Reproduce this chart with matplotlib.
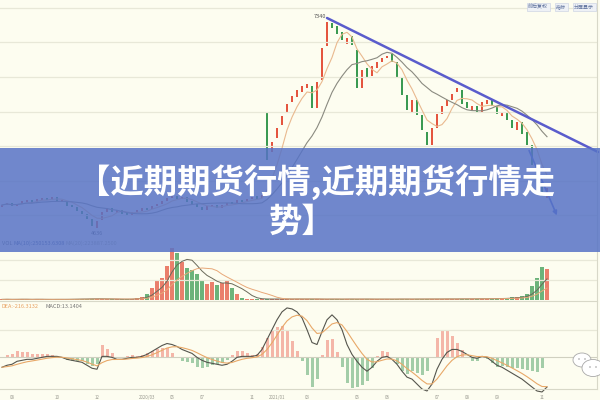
import numpy as np
import pandas as pd
import matplotlib
matplotlib.use('Agg')
import matplotlib.pyplot as plt
from matplotlib.patches import Rectangle, Ellipse
from matplotlib.transforms import IdentityTransform

plt.rcParams['font.family'] = ['Noto Sans CJK SC', 'DejaVu Sans']

# K线数据（开盘/收盘）
close = [4935, 4961, 4922, 4948, 4987, 5000, 4961, 5013, 5026, 5000,
         5039, 4987, 5000, 4922, 4909, 4857, 4818, 4753, 4662, 4727,
         4844, 4896, 4844, 4870, 4818, 4792, 4844, 4870, 4896, 4870,
         4922, 4948, 4987, 5026, 5052, 5013, 5039, 4974, 4948, 4909,
         4870, 4922, 4935, 4896, 4935, 4961, 4948, 5000, 4974, 5013,
         5039, 5013, 5065, 5520, 5754, 5936, 6092, 6248, 6352, 6430,
         6482, 6508, 6196, 6534, 6976, 7320, 7236, 7158, 7080, 7106,
         7015, 6456, 6690, 6586, 6742, 6794, 6846, 6872, 6794, 6586,
         6365, 6170, 6300, 6105, 5910, 5715, 5936, 6118, 6222, 6300,
         6378, 6456, 6248, 6196, 6222, 6144, 6274, 6300, 6222, 6118,
         6144, 6040, 5936, 6014, 5858, 5715, 5455, 5234, 5052, 5156]
open_ = [4909, 4935, 4961, 4922, 4948, 4974, 5000, 4961, 5000, 5026,
         5000, 5039, 4974, 4987, 4935, 4909, 4857, 4818, 4753, 4636,
         4740, 4844, 4896, 4831, 4870, 4831, 4792, 4831, 4857, 4896,
         4883, 4922, 4948, 4987, 5026, 5052, 5013, 5039, 4987, 4948,
         4909, 4870, 4909, 4935, 4896, 4922, 4974, 4961, 5000, 4987,
         5013, 5052, 5026, 6131, 5624, 5806, 5975, 6144, 6274, 6339,
         6404, 6456, 6482, 6196, 6560, 7002, 7300, 7262, 7184, 7028,
         7132, 6950, 6456, 6716, 6612, 6716, 6794, 6846, 6898, 6794,
         6586, 6365, 6144, 6300, 6105, 5884, 5715, 5936, 6118, 6222,
         6300, 6404, 6430, 6274, 6170, 6222, 6144, 6248, 6300, 6222,
         6092, 6144, 6040, 5910, 6014, 5884, 5715, 5455, 5234, 5026]

# 成交量
volume = [3000, 4000, 2500, 3500, 5000, 3000, 2000, 4000, 3500, 3000,
          2500, 3000, 4000, 3500, 5000, 4500, 6000, 5500, 7000, 6500,
          5000, 4000, 3500, 4500, 3000, 4000, 6000, 12000, 15000, 30000,
          60000, 100000, 110000, 170000, 260000, 235000, 190000, 160000, 150000, 130000,
          95000, 80000, 90000, 75000, 85000, 95000, 60000, 30000, 12000, 6000,
          5000, 4000, 4500, 6000, 5000, 5500, 4000, 5000, 4500, 6000,
          5000, 4000, 4500, 5000, 4000, 3500, 5000, 4500, 4000, 5000,
          4500, 4000, 5000, 4500, 4000, 3500, 4500, 5000, 4000, 4500,
          5000, 4500, 4000, 5000, 4500, 5500, 5000, 4500, 5000, 6000,
          5500, 5000, 6000, 5500, 6500, 6000, 7000, 6500, 7000, 8000,
          9000, 10000, 13000, 16000, 20000, 28000, 70000, 110000, 165000, 155000]

# MACD 的 DIF 线
dif = [-100, -80, -70, -40, -30, -20, -20, -10, 0, 10,
       10, 10, 0, -20, -30, -40, -50, -80, -110, -120,
       10, 10, 0, -20, -20, -10, 0, 0, 10, 30,
       60, 90, 120, 140, 130, 110, 80, 60, 40, 0,
       -30, -50, -60, -70, -80, -70, -40, 0, 10, 10,
       10, 20, 80, 180, 280, 380, 460, 500, 490, 460,
       400, 280, 150, 130, 260, 380, 430, 380, 280, 130,
       30, -40, -100, -140, -100, -40, 0, 10, -20, -70,
       -140, -200, -220, -270, -320, -340, -270, -120, -20, 50,
       80, 80, 60, 30, 0, -10, 10, 0, -40, -80,
       -100, -130, -160, -190, -220, -260, -300, -340, -350, -300]

peak_label = 7340
trend_from = (65, 7366)
trend_to = (119.2, 5624)
arrow_from = (105.2, 5676)
arrow_to = (111.2, 4766)

date_pos = [2, 11, 19, 29, 34, 40, 50, 55, 61, 71, 77, 87, 93, 99, 108]
date_labels = ['08', '10', '12', '2020/03', '05', '07', '11', '2021/01',
               '03', '05', '06', '07', '08', '09', '11']

RED = '#e4553f'
GREEN = '#3b9a52'
BG = '#fdfdf0'
GRID = '#e8e8d8'

close = np.array(close)
open_ = np.array(open_)
volume = np.array(volume)
dif = np.array(dif, dtype=float)
idx = np.arange(len(close))
up = close >= open_
xlim = (-0.4, 119)

fig = plt.figure(figsize=(6, 4), dpi=100, facecolor=BG)


def box(top, bottom):
    return [0, 1 - bottom / 400, 597 / 600, (bottom - top) / 400]


def clean(ax):
    ax.set_facecolor('none')
    for s in ax.spines.values():
        s.set_visible(False)
    ax.set_xlim(*xlim)
    ax.tick_params(left=False, right=False, bottom=False, top=False,
                   labelleft=False, labelbottom=False)


# 主图
ax = fig.add_axes(box(0, 245))
clean(ax)
ax.set_ylim(4415, 7600)
ax.set_yticks([7500, 7050, 6600, 6150, 5700, 5250, 4800])
ax.grid(axis='y', color=GRID, lw=0.9)
ax.spines['right'].set_visible(True)
ax.spines['right'].set_color('#d8d8c8')
body_low = np.minimum(open_, close)
body_h = np.maximum(np.abs(close - open_), 10)
ax.bar(idx, body_h, bottom=body_low, width=0.45,
       color=np.where(up, RED, GREEN), linewidth=0)
ma5 = pd.Series(close).rolling(5, min_periods=1).mean()
ma14 = pd.Series(close).rolling(14, min_periods=1).mean()
ax.plot(idx, ma5, color='#e9b98f', lw=0.8)
ax.plot(idx, ma14, color='#8a8a80', lw=0.8)
ax.plot([trend_from[0], trend_to[0]], [trend_from[1], trend_to[1]],
        color='#5a5ccc', lw=1.8, solid_capstyle='round', clip_on=False)
ax.annotate('', xy=arrow_to, xytext=arrow_from,
            arrowprops=dict(arrowstyle='-|>', color='#4a60d0', lw=1.2,
                            mutation_scale=6))
peak_i = int(np.argmax(close))
ax.annotate(str(peak_label), xy=(peak_i, peak_label), xytext=(-1, 1),
            textcoords='offset points', ha='right', va='bottom',
            fontsize=4, color='#555555')
low_i = int(np.argmin(open_))
ax.annotate(f'{open_[low_i]:.0f}', xy=(low_i, open_[low_i]), xytext=(0, -2),
            textcoords='offset points', ha='center', va='top',
            fontsize=4, color='#555555')

# 成交量
axv = fig.add_axes(box(240, 301))
clean(axv)
axv.set_ylim(-5000, 300000)
axv.set_yticks([100000, 200000])
axv.grid(axis='y', color=GRID, lw=0.9)
axv.spines['bottom'].set_visible(True)
axv.spines['bottom'].set_position(('data', -5000))
axv.spines['bottom'].set_color('#d8d8c8')
axv.spines['right'].set_visible(True)
axv.spines['right'].set_color('#d8d8c8')
axv.bar(idx, volume, width=0.7, color=np.where(up, RED, GREEN),
        alpha=0.75, linewidth=0)
axv.plot(idx, pd.Series(volume).rolling(5, min_periods=1).mean(),
         color='#6a6a5a', lw=0.7)
axv.plot(idx, pd.Series(volume).rolling(10, min_periods=1).mean(),
         color='#e8a878', lw=0.7)

# MACD
axm = fig.add_axes(box(302, 389))
clean(axm)
axm.set_ylim(-320, 560)
axm.set_yticks([280])
axm.grid(axis='y', color=GRID, lw=0.9)
axm.axhline(0, color='#d0d0c0', lw=0.8)
dea = pd.Series(dif).ewm(span=5, adjust=False).mean().values
hist = 2 * (dif - dea)
axm.bar(idx, hist, width=0.6, color=np.where(hist >= 0, '#ee8878', '#68ad78'),
        alpha=0.6, linewidth=0)
axm.plot(idx, dif, color='#55554d', lw=0.8, clip_on=False)
axm.plot(idx, dea, color='#e8a868', lw=0.8, clip_on=False)
axm.spines['bottom'].set_visible(True)
axm.spines['bottom'].set_color('#d8d8c8')
axm.spines['right'].set_visible(True)
axm.spines['right'].set_color('#d8d8c8')
axm.set_xticks(date_pos)
axm.set_xticklabels(date_labels)
axm.tick_params(labelbottom=True, labelsize=3.2, labelcolor='#9a9a90', pad=0.5)

# 指标文字
fig.text(2 / 600, 1 - 243 / 400, 'VOL', fontsize=4,
         color='#666666', va='center')
fig.text(14 / 600, 1 - 243 / 400, 'MA(10):250153.6308', fontsize=4,
         color='#4a5a8a', va='center')
fig.text(65 / 600, 1 - 243 / 400, 'MA(20):223887.2500', fontsize=4,
         color='#b0a890', va='center')
fig.text(2 / 600, 1 - 306 / 400, 'DEA:-216.3132', fontsize=4,
         color='#e8a060', va='center')
fig.text(45 / 600, 1 - 306 / 400, 'MACD:13.1404', fontsize=4,
         color='#777777', va='center')

# 右上角按钮
for xp, txt in [(538, '前后复权'), (561, '指标'), (584, '分屏显示')]:
    fig.text(xp / 600, 1 - 7 / 400, txt, fontsize=3.6, color='#5a6e9a',
             ha='center', va='center',
             bbox=dict(boxstyle='square,pad=0.3', fc='#eef1f6', ec='#c5cde0', lw=0.4))

# 横幅
fig.add_artist(Rectangle((0, 1 - 252 / 400), 1, 104 / 400,
                         transform=fig.transFigure, facecolor='#5773c6',
                         alpha=0.85, edgecolor='none', zorder=5))
fig.text(316 / 600, 1 - 182 / 400, '【近期期货行情,近期期货行情走',
         fontsize=24, fontweight='heavy', color='white',
         ha='center', va='center', zorder=6)
fig.text(302 / 600, 1 - 222 / 400, '势】', fontsize=24, fontweight='heavy',
         color='white', ha='center', va='center', zorder=6)

# 右下角图标
for cx, cy, w, h in [(582, 40, 18, 14), (593, 32, 22, 17)]:
    fig.add_artist(Ellipse((cx, cy), w, h, transform=IdentityTransform(),
                           facecolor='white', edgecolor='#a8a8a8', lw=0.6, zorder=7))
    for dx in (-3, 3):
        fig.add_artist(Ellipse((cx + dx, cy + 1), 1.5, 1.5,
                               transform=IdentityTransform(),
                               facecolor='#999999', edgecolor='none', zorder=8))

fig.savefig('out.png', dpi=100, facecolor=BG)
